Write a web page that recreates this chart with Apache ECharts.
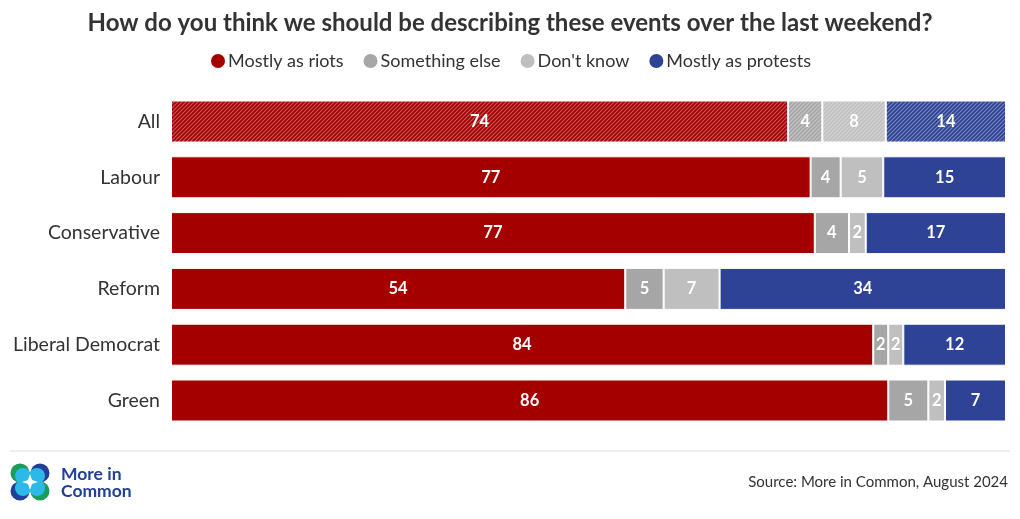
<!DOCTYPE html>
<html><head><meta charset="utf-8">
<script src="https://cdn.jsdelivr.net/npm/echarts@6/dist/echarts.min.js"></script>
<style>html,body{margin:0;padding:0;background:#fff}#c{width:1020px;height:519px}</style>
</head><body><div id="c"></div>
<script>
const categories = ['All','Labour','Conservative','Reform','Liberal Democrat','Green'];
const seriesNames = ['Mostly as riots','Something else',"Don't know",'Mostly as protests'];
const riots     = [73.9, 76.6, 77.1, 54.4, 84.1, 85.9];
const something = [4.1, 3.6, 4.1, 4.6, 1.8, 4.8];
const dontKnow  = [7.6, 5.1, 2.0, 6.7, 1.8, 2.0];
const protests  = [14.4, 14.7, 16.8, 34.3, 12.3, 7.3];
const colors = ['#A50000','#A6A6A6','#BFBFBF','#2E4396'];
const FONT = 'Lato, "Open Sans", sans-serif';

function hatch(base){
  const c = document.createElement('canvas'); c.width = 4; c.height = 4;
  const g = c.getContext('2d');
  g.fillStyle = base; g.fillRect(0,0,4,4);
  g.strokeStyle = 'rgba(255,255,255,0.35)'; g.lineWidth = 1.2;
  g.beginPath(); g.moveTo(0,4); g.lineTo(4,0); g.moveTo(-1,1); g.lineTo(1,-1); g.moveTo(3,5); g.lineTo(5,3); g.stroke();
  return c;
}
const all = [riots, something, dontKnow, protests];
const series = all.map((arr,si)=>({
  name: seriesNames[si], type:'bar', stack:'t', barWidth: 42,
  itemStyle:{color: colors[si], borderColor:'#fff', borderWidth:1},
  label:{show:true, color:'#fff', fontFamily:FONT, fontWeight:'bold', fontSize:16.5,
    formatter: p => Math.round(p.value)},
  data: arr.map((v,i)=> i===0 ? {value:v, itemStyle:{color:{image:hatch(colors[si]), repeat:'repeat'}}} : v)
}));

const chart = echarts.init(document.getElementById('c'));
chart.setOption({
  animation:false,
  title:{text:'How do you think we should be describing these events over the last weekend?',
    left:'center', top:6, textStyle:{fontFamily:FONT, fontSize:24, fontWeight:'bold', color:'#333'}},
  legend:{top:47, left:'center', icon:'circle', itemWidth:16, itemHeight:16, itemGap:18,
    textStyle:{fontFamily:FONT, fontSize:18, color:'#333', padding:[0,0,0,-3]}, data:seriesNames},
  color: colors,
  grid:{left:171, right:14, top:93.6, bottom:519-428.4},
  xAxis:{type:'value', min:0, max:100, show:false},
  yAxis:{type:'category', data:categories, inverse:true,
    axisLine:{show:false}, axisTick:{show:false},
    axisLabel:{fontFamily:FONT, fontSize:19.5, color:'#333', margin:11}},
  series: series,
  graphic:[
    {type:'line', shape:{x1:10,y1:451,x2:1010,y2:451}, style:{stroke:'#ddd', lineWidth:1}},
    {type:'circle', shape:{cx:20,cy:473,r:9.5}, style:{fill:'#1A9C5B'}},
    {type:'circle', shape:{cx:40,cy:473,r:9.5}, style:{fill:'#22409A'}},
    {type:'circle', shape:{cx:20,cy:491,r:9.5}, style:{fill:'#22409A'}},
    {type:'circle', shape:{cx:40,cy:491,r:9.5}, style:{fill:'#1A9C5B'}},
    {type:'circle', shape:{cx:23,cy:476,r:8}, style:{fill:'#2DB9E8'}},
    {type:'circle', shape:{cx:37,cy:476,r:8}, style:{fill:'#2DB9E8'}},
    {type:'circle', shape:{cx:23,cy:488,r:8}, style:{fill:'#2DB9E8'}},
    {type:'circle', shape:{cx:37,cy:488,r:8}, style:{fill:'#2DB9E8'}},
    {type:'polygon', shape:{points:[[30,474],[32,480],[38,482],[32,484],[30,490],[28,484],[22,482],[28,480]]}, style:{fill:'#fff'}},
    {type:'text', left:61, top:465, style:{text:'More in', font:'bold 17.5px '+FONT, fill:'#22409A'}},
    {type:'text', left:61, top:482, style:{text:'Common', font:'bold 17.5px '+FONT, fill:'#22409A'}},
    {type:'text', right:12, top:475, style:{text:'Source: More in Common, August 2024', font:'15px '+FONT, fill:'#333'}}
  ]
});
</script></body></html>
